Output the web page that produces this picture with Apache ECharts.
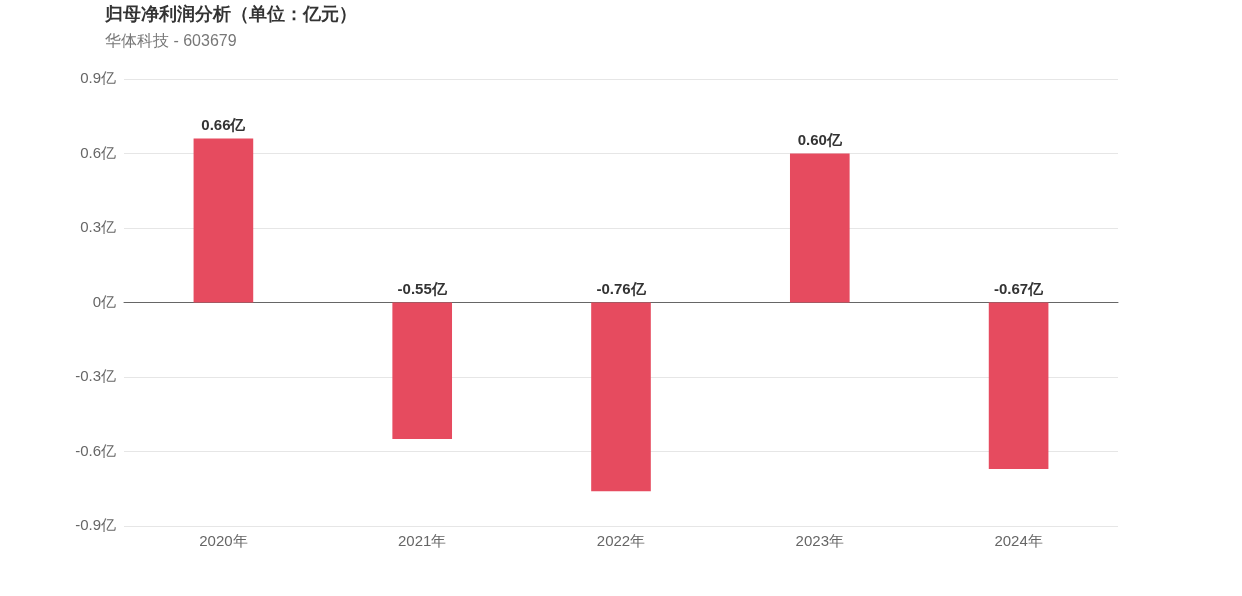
<!DOCTYPE html>
<html><head><meta charset="utf-8">
<script src="https://cdn.jsdelivr.net/npm/echarts@6/dist/echarts.min.js"></script>
<style>html,body{margin:0;padding:0;background:#fff}#c{width:1242px;height:596px}</style>
</head><body><div id="c"></div>
<script>
var categories = ['2020年','2021年','2022年','2023年','2024年'];
var values = [0.66, -0.55, -0.76, 0.60, -0.67];
var chart = echarts.init(document.getElementById('c'));
chart.setOption({
  animation:false,
  title:{text:'归母净利润分析（单位：亿元）',subtext:'华体科技 - 603679',left:100,top:1,
    textStyle:{fontSize:17.5,fontWeight:'bold',color:'#333'},
    subtextStyle:{fontSize:16,color:'#777'},itemGap:10},
  grid:{left:124,right:124,top:79,bottom:70},
  xAxis:{type:'category',data:categories,axisTick:{show:false},
    axisLine:{lineStyle:{color:'#666'}},
    axisLabel:{color:'#666',fontSize:15,margin:8}},
  yAxis:{type:'value',min:-0.9,max:0.9,interval:0.3,
    axisLabel:{color:'#666',fontSize:15,formatter:function(v){return (Math.round(v*10)/10)+'亿';}},
    splitLine:{lineStyle:{color:'#e6e6e6'}}},
  series:[{type:'bar',data:values,barWidth:'30%',itemStyle:{color:'#E64B5F'},
    label:{show:true,position:'top',color:'#333',fontWeight:'bold',fontSize:15,
      formatter:function(p){return p.value.toFixed(2)+'亿';}}}]
});
</script></body></html>
